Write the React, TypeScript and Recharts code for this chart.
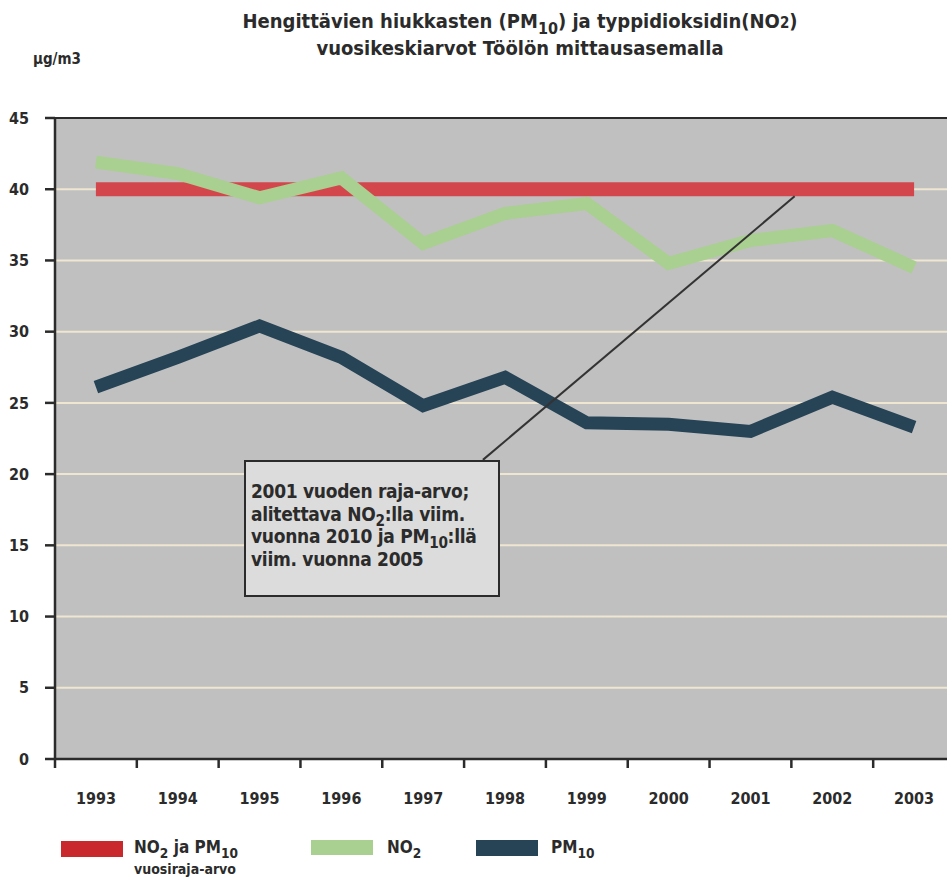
import React from 'react';
import { LineChart, Line, XAxis, YAxis, CartesianGrid, ReferenceLine } from 'recharts';

const YEARS = [1993, 1994, 1995, 1996, 1997, 1998, 1999, 2000, 2001, 2002, 2003];
const NO2 = [41.9, 41.1, 39.4, 40.8, 36.2, 38.3, 39.0, 34.8, 36.4, 37.1, 34.5];
const PM10 = [26.1, 28.2, 30.4, 28.2, 24.8, 26.8, 23.6, 23.5, 23.0, 25.4, 23.3];
const LIMIT = [40, 40, 40, 40, 40, 40, 40, 40, 40, 40, 40];
const Y_TICKS = [0, 5, 10, 15, 20, 25, 30, 35, 40, 45];
const BOUNDARY_TICKS = [1992.5, 1993.5, 1994.5, 1995.5, 1996.5, 1997.5, 1998.5, 1999.5, 2000.5, 2001.5, 2002.5, 2003.5];
// leader line from the note box to the limit line
const NOTE_LINE = [{ x: 1997.73, y: 21.0 }, { x: 2001.54, y: 39.5 }];

const data = YEARS.map((year, i) => ({ year, no2: NO2[i], pm10: PM10[i], limit: LIMIT[i] }));

const FONT = '"Liberation Sans Narrow", "DejaVu Sans Condensed", "Liberation Sans", sans-serif';
const RED = '#d3474c';
const GREEN = '#a9cf91';
const DARK = '#274356';
const INK = '#2b2b2b';

const tickStyle = { fontFamily: FONT, fontWeight: 700, fontSize: 16, fill: INK };
const sub: React.CSSProperties = { fontSize: '0.8em', verticalAlign: '-0.35em', lineHeight: 0 };

export default function App() {
  return (
    <div style={{ position: 'absolute', left: 0, top: 0, width: 947, height: 879, overflow: 'hidden', background: '#fff', fontFamily: FONT, color: INK }}>
      <div style={{ position: 'absolute', left: 0, width: 1040, top: 9, textAlign: 'center', fontWeight: 700, fontSize: 20, lineHeight: '25px', whiteSpace: 'nowrap' }}>
        Hengittävien hiukkasten (PM<span style={sub}>10</span>) ja typpidioksidin(NO<span style={{ fontSize: '0.75em' }}>2</span>)
        <br />
        vuosikeskiarvot Töölön mittausasemalla
      </div>
      <div style={{ position: 'absolute', left: 33, top: 50, fontWeight: 700, fontSize: 15 }}>µg/m3</div>

      <LineChart width={960} height={879} data={data} margin={{ top: 118, right: 5, bottom: 0, left: 0 }}>
        <CartesianGrid vertical={false} stroke="#efe6d2" strokeWidth={2} fill="#c0c0c0" fillOpacity={1} />
        <XAxis
          dataKey="year"
          type="number"
          domain={[1992.5, 2003.5]}
          ticks={BOUNDARY_TICKS}
          height={12}
          tickSize={9}
          tick={() => <g />}
          stroke={INK}
          strokeWidth={2.5}
          allowDataOverflow
        />
        <XAxis
          xAxisId="labels"
          dataKey="year"
          type="number"
          domain={[1992.5, 2003.5]}
          ticks={YEARS}
          height={108}
          axisLine={false}
          tickLine={false}
          tickSize={0}
          tickMargin={22}
          tick={tickStyle}
        />
        <YAxis
          domain={[0, 45]}
          ticks={Y_TICKS}
          width={55}
          tickSize={10}
          tickMargin={16}
          tick={tickStyle}
          stroke={INK}
          strokeWidth={2.5}
          allowDataOverflow
        />
        <ReferenceLine y={45} stroke={INK} strokeWidth={2} />
        <Line dataKey="limit" stroke={RED} strokeWidth={14} dot={false} isAnimationActive={false} />
        <Line dataKey="no2" stroke={GREEN} strokeWidth={13} dot={false} isAnimationActive={false} />
        <Line dataKey="pm10" stroke={DARK} strokeWidth={13} dot={false} isAnimationActive={false} />
        <ReferenceLine segment={NOTE_LINE} stroke="#333" strokeWidth={2} ifOverflow="visible" />
      </LineChart>

      <div style={{ position: 'absolute', left: 244, top: 460, width: 256, height: 137, background: '#dcdcdc', border: `2px solid ${INK}`, fontWeight: 700, fontSize: 19, letterSpacing: -0.3, lineHeight: '22.5px', padding: '18px 0 0 5px', boxSizing: 'border-box', whiteSpace: 'nowrap' }}>
        2001 vuoden raja-arvo;<br />
        alitettava NO<span style={sub}>2</span>:lla viim.<br />
        vuonna 2010 ja PM<span style={sub}>10</span>:llä<br />
        viim. vuonna 2005
      </div>

      <div style={{ position: 'absolute', left: 61, top: 841, width: 62, height: 16, background: '#c9282d' }} />
      <div style={{ position: 'absolute', left: 134, top: 837, fontWeight: 700, fontSize: 17, whiteSpace: 'nowrap' }}>
        NO<span style={sub}>2</span> ja PM<span style={sub}>10</span>
      </div>
      <div style={{ position: 'absolute', left: 134, top: 861, fontWeight: 700, fontSize: 14 }}>vuosiraja-arvo</div>
      <div style={{ position: 'absolute', left: 311, top: 840, width: 62, height: 15, background: GREEN }} />
      <div style={{ position: 'absolute', left: 387, top: 837, fontWeight: 700, fontSize: 17 }}>
        NO<span style={sub}>2</span>
      </div>
      <div style={{ position: 'absolute', left: 476, top: 840, width: 62, height: 16, background: DARK }} />
      <div style={{ position: 'absolute', left: 551, top: 837, fontWeight: 700, fontSize: 17 }}>
        PM<span style={sub}>10</span>
      </div>
    </div>
  );
}
